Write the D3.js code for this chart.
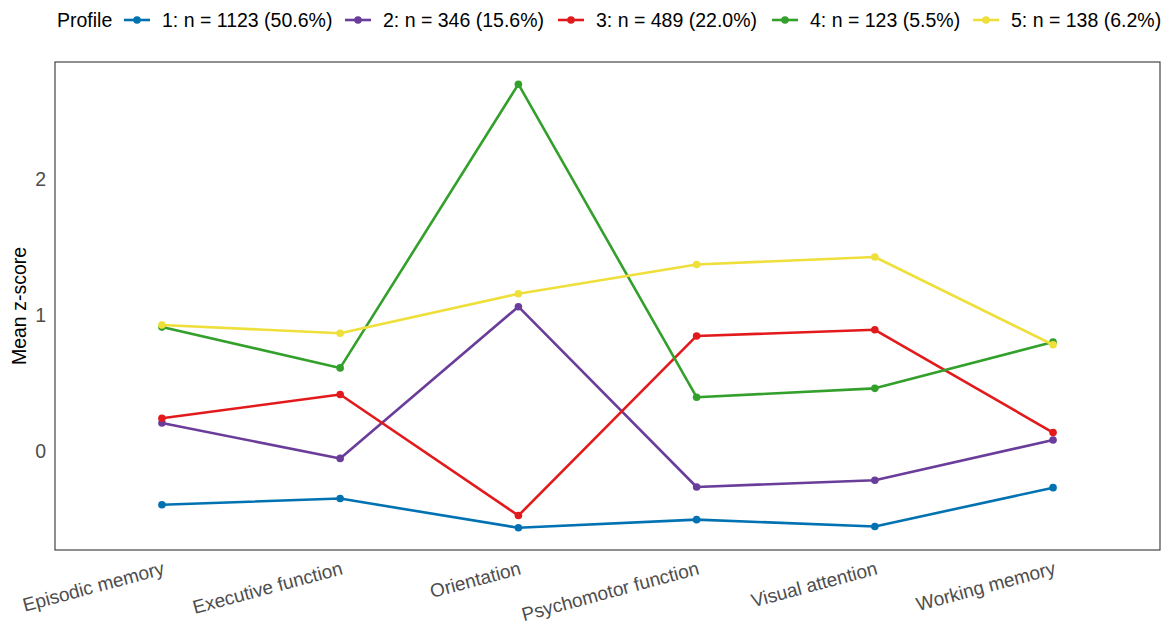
<!DOCTYPE html>
<html>
<head>
<meta charset="utf-8">
<script src="https://cdn.jsdelivr.net/npm/d3@7"></script>
<style>
  html, body { margin: 0; padding: 0; background: #fff; }
  svg { display: block; font-family: "Liberation Sans", Arial, sans-serif; }
</style>
</head>
<body>
<svg id="chart" width="1167" height="624"></svg>
<script>
// Cognitive domains on the x axis
const domains = ["Episodic memory", "Executive function", "Orientation",
                 "Psychomotor function", "Visual attention", "Working memory"];

// Profile labels for the legend
const profileLabels = ["1: n = 1123 (50.6%)", "2: n = 346 (15.6%)", "3: n = 489 (22.0%)",
                       "4: n = 123 (5.5%)", "5: n = 138 (6.2%)"];

// Mean z-score per domain for each profile
const profile1 = [-0.39, -0.345, -0.56, -0.50, -0.55, -0.265];
const profile2 = [0.21, -0.05, 1.065, -0.26, -0.21, 0.085];
const profile3 = [0.245, 0.42, -0.47, 0.85, 0.895, 0.14];
const profile4 = [0.915, 0.615, 2.70, 0.40, 0.465, 0.805];
const profile5 = [0.93, 0.87, 1.16, 1.375, 1.43, 0.785];

const profileColors = ["#0072B2", "#6A3D9A", "#E31A1C", "#33A02C", "#EEDF3A"];

const yTicks = [0, 1, 2];

const series = [profile1, profile2, profile3, profile4, profile5].map((vals, i) => ({
  label: profileLabels[i],
  color: profileColors[i],
  values: vals.map((v, j) => ({ domain: domains[j], value: v }))
}));

const FONT = "\"Liberation Sans\", Arial, sans-serif";
const svg = d3.select("#chart");
const panel = { left: 55, top: 62, right: 1160, bottom: 550 };

// Discrete x scale with 0.6-unit padding on each side
const x = d3.scalePoint()
  .domain(domains)
  .range([panel.left, panel.right])
  .padding(0.6);

// Continuous y scale with 5% expansion around the data range
const allVals = series.flatMap(s => s.values.map(d => d.value));
const [vMin, vMax] = d3.extent(allVals);
const pad = (vMax - vMin) * 0.05;
const y = d3.scaleLinear()
  .domain([vMin - pad, vMax + pad])
  .range([panel.bottom, panel.top]);

// Lines and points
const line = d3.line().x(d => x(d.domain)).y(d => y(d.value));

const g = svg.append("g");
series.forEach(s => {
  g.append("path")
    .datum(s.values)
    .attr("d", line)
    .attr("fill", "none")
    .attr("stroke", s.color)
    .attr("stroke-width", 2.6)
    .attr("stroke-linejoin", "round");
  g.selectAll(null)
    .data(s.values)
    .enter().append("circle")
    .attr("cx", d => x(d.domain))
    .attr("cy", d => y(d.value))
    .attr("r", 3.8)
    .attr("fill", s.color);
});

// Panel border
svg.append("rect")
  .attr("x", panel.left)
  .attr("y", panel.top)
  .attr("width", panel.right - panel.left)
  .attr("height", panel.bottom - panel.top)
  .attr("fill", "none")
  .attr("stroke", "#333")
  .attr("stroke-width", 1.1);

// Y axis (labels only)
const yAxis = d3.axisLeft(y).tickValues(yTicks).tickSize(0).tickPadding(9).tickFormat(d3.format("d"));
const yg = svg.append("g").attr("transform", `translate(${panel.left},0)`).call(yAxis);
yg.select(".domain").remove();
yg.selectAll("text").attr("fill", "#4d4d4d").style("font-size", "19.5px")
  .style("font-family", FONT);

// X axis with slanted labels
const xAxis = d3.axisBottom(x).tickSize(0).tickPadding(0);
const xg = svg.append("g").attr("transform", `translate(0,${panel.bottom})`).call(xAxis);
xg.select(".domain").remove();
xg.selectAll("text")
  .attr("fill", "#4d4d4d")
  .style("font-size", "19px")
  .style("font-family", FONT)
  .attr("text-anchor", "end")
  .attr("dy", null)
  .attr("y", 0)
  .attr("transform", "translate(3,24) rotate(-15)");

// Y axis title
svg.append("text")
  .attr("transform", `translate(26,${(panel.top + panel.bottom) / 2}) rotate(-90)`)
  .attr("text-anchor", "middle")
  .style("font-size", "19.5px")
  .attr("fill", "#000")
  .text("Mean z-score");

// Legend along the top
const legend = svg.append("g").attr("transform", "translate(57,20)");
legend.append("text")
  .attr("x", 0).attr("y", 0).attr("dy", "0.35em")
  .style("font-size", "19.5px")
  .attr("fill", "#000")
  .text("Profile");

const keyStarts = [124, 345, 558, 772, 973];
series.forEach((s, i) => {
  const k = legend.append("g").attr("transform", `translate(${keyStarts[i] - 57},0)`);
  k.append("line").attr("x1", 0).attr("x2", 26).attr("y1", 0).attr("y2", 0)
    .attr("stroke", s.color).attr("stroke-width", 2.6);
  k.append("circle").attr("cx", 13).attr("cy", 0).attr("r", 3.8).attr("fill", s.color);
  k.append("text").attr("x", 38).attr("y", 0).attr("dy", "0.35em")
    .style("font-size", "19.5px").attr("fill", "#000").text(s.label);
});
</script>
</body>
</html>
